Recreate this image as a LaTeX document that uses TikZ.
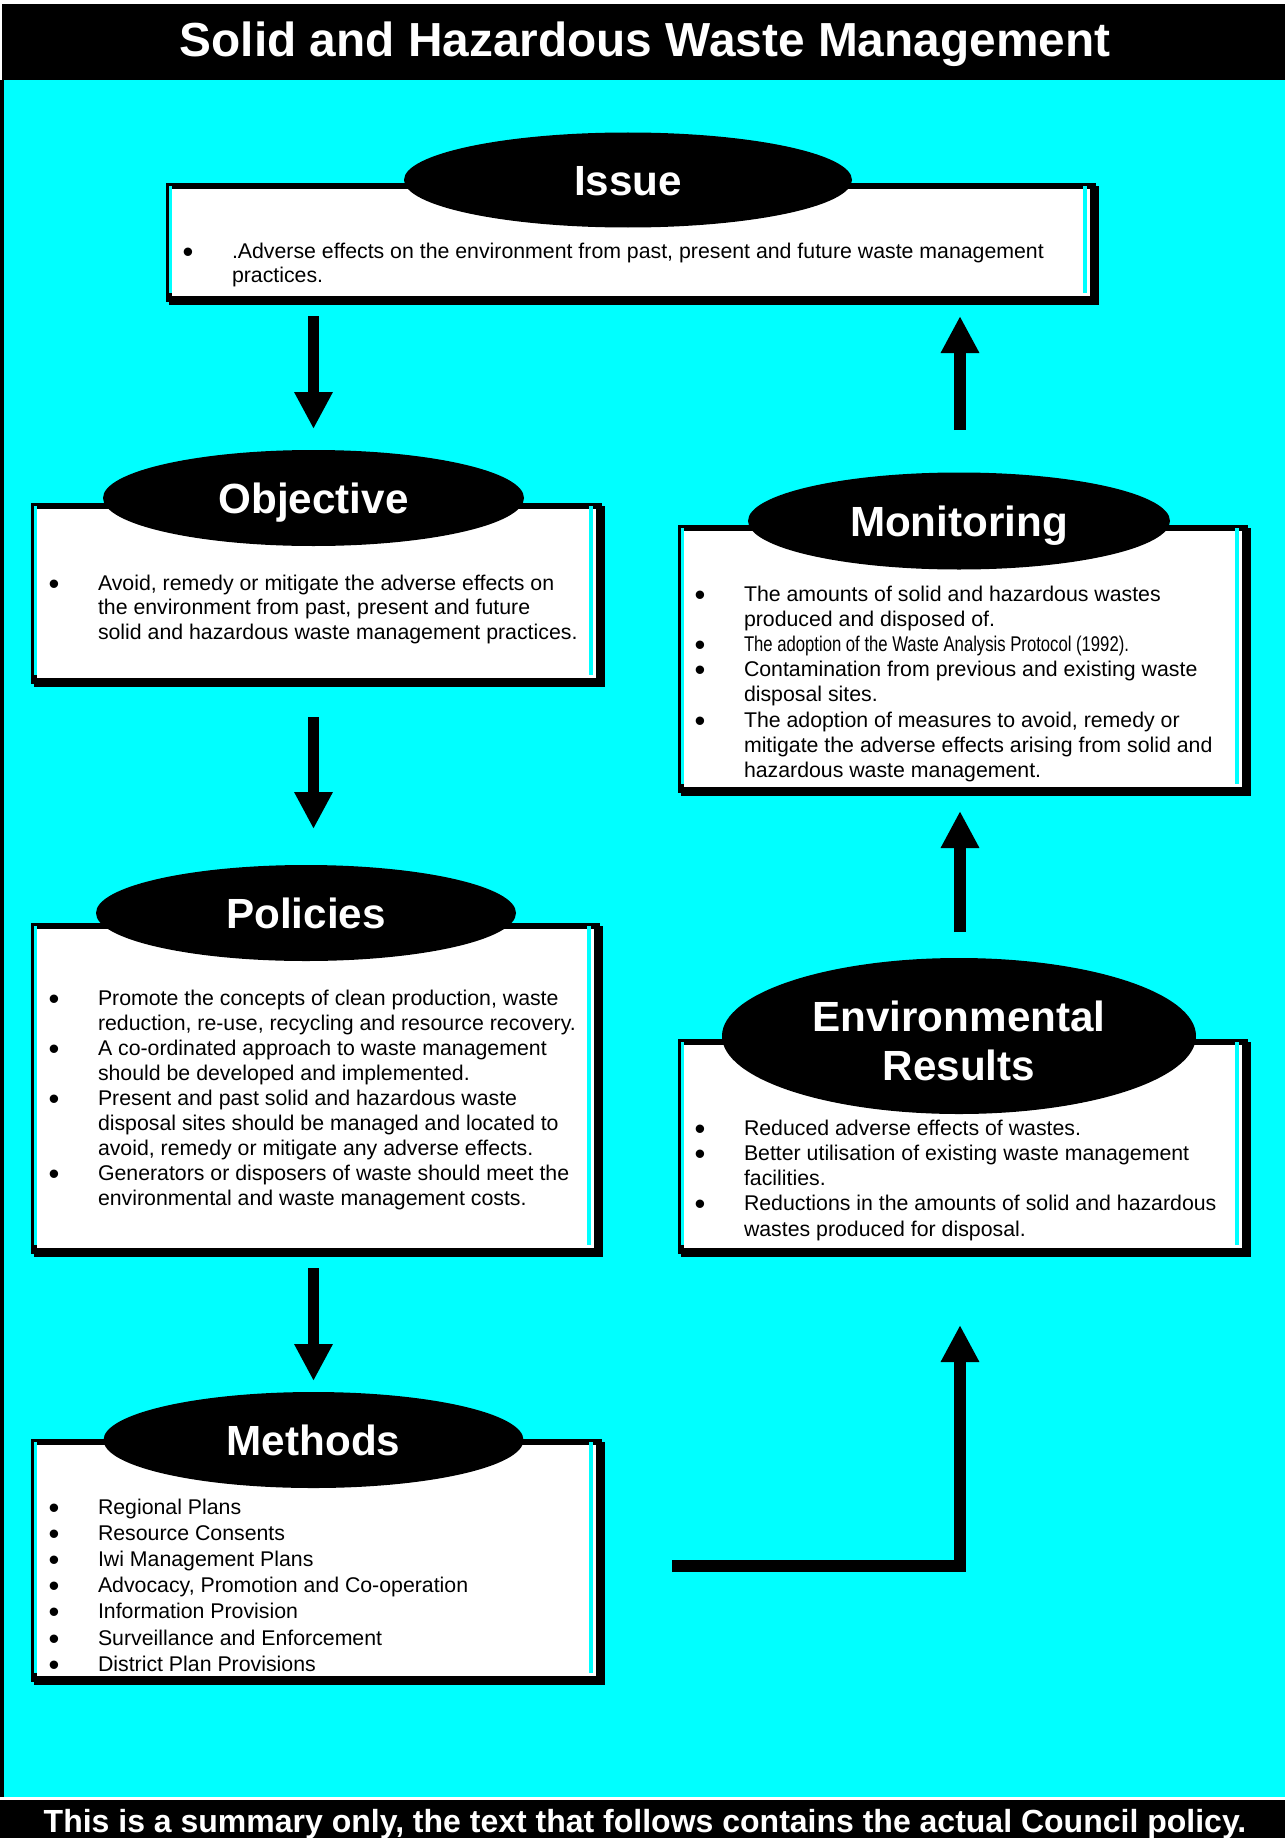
\documentclass[tikz,border=0pt]{standalone}
\usepackage{fontspec}
\setmainfont{Liberation Sans}
\usetikzlibrary{shapes.geometric,arrows.meta}
\definecolor{cy}{RGB}{0,255,255}
\newlength\bidist
\setlength\bidist{49.3pt}
\newcommand\bi[1]{\par\hangindent=\bidist\hangafter=1\noindent\makebox[\bidist][l]{\smash{\raisebox{-4pt}{\scalebox{1.45}{\textbullet}}}}#1\par}
\newcommand\txtblock[2]{\parbox[t]{1000pt}{\fontsize{21.3}{#1}\selectfont\setlength\parskip{0pt}#2}}
\tikzset{
  boxsty/.style={rectangle, draw=black, fill=white, line width=6pt, inner sep=0pt},
  titlesty/.style={ellipse, fill=black, text=white, inner sep=0pt, align=center,
     font=\fontsize{42.2}{49}\selectfont\bfseries, text height=30.2pt, text depth=0pt},
  txtsty/.style={anchor=base west, inner sep=0pt},
  arrsty/.style={line width=11.5pt, -{Triangle[width=36pt,length=37pt]}},
}
\newcommand\wastebox[5]{%
  \pgfmathsetmacro\wbw{#4-#2-6}\pgfmathsetmacro\wbh{#5-#3-6}%
  \fill[black] (#2+6,#3+6) rectangle (#4+6,#5+6);
  \node[boxsty, anchor=north west, minimum width=\wbw pt, minimum height=\wbh pt] (#1) at (#2+3,#3+3) {};
  \fill[cy] (#2+6,#3+6) rectangle (#2+9,#5-6);
  \fill[cy] (#4-10,#3+6) rectangle (#4-6,#5-6);
}
\begin{document}
\begin{tikzpicture}[x=1pt,y=-1pt]
\useasboundingbox (0,0) rectangle (1285,1838);
\fill[white] (0,0) rectangle (1285,1838);
% background
\fill[cy] (0,80) rectangle (1285,1797);
\fill[black] (0,80) rectangle (4,1797);
% header / footer
\fill[black] (2,4) rectangle (1285,80);
\node[anchor=base, text=white, font=\fontsize{47.8}{55}\selectfont\bfseries, inner sep=0pt] (head) at (645,57) {Solid and Hazardous Waste Management};
\fill[black] (0,1800) rectangle (1285,1838);
\node[anchor=base, text=white, font=\fontsize{32}{37}\selectfont\bfseries, inner sep=0pt] (foot) at (645,1832) {This is a summary only, the text that follows contains the actual Council policy.};

% boxes
\wastebox{issue}{163}{180}{1093}{299}
\wastebox{obj}{28}{500}{599}{681}
\wastebox{pol}{28}{920}{597}{1251}
\wastebox{meth}{28}{1436}{599}{1679}
\wastebox{mon}{675}{522}{1245}{790}
\wastebox{env}{675}{1036}{1245}{1251}

% titles
\node[titlesty, minimum width=448pt, minimum height=95pt] (issueT) at (628,180) {Issue};
\node[titlesty, minimum width=421pt, minimum height=96pt] (objT) at (313.5,498) {Objective};
\node[titlesty, minimum width=420pt, minimum height=96pt] (polT) at (306,913) {Policies};
\node[titlesty, minimum width=420pt, minimum height=96pt] (methT) at (313.5,1440) {Methods};
\node[titlesty, minimum width=422pt, minimum height=97pt] (monT) at (959,521) {Monitoring};
\node[titlesty, minimum width=474pt, minimum height=156pt, text height=88pt] (envT) at (959,1036) {Environmental\\Results};

% texts
\node[txtsty] (issueX) at (182.5,258) {\txtblock{24.8}{%
\bi{.Adverse effects on the environment from past, present and future waste management\\practices.}}};
\node[txtsty] (objX) at (48.5,590) {\txtblock{24.8}{%
\bi{Avoid, remedy or mitigate the adverse effects on\\the environment from past, present and future\\solid and hazardous waste management practices.}}};
\node[txtsty] (polX) at (48.5,1005) {\txtblock{25.1}{%
\bi{Promote the concepts of clean production, waste\\reduction, re-use, recycling and resource recovery.}
\bi{A co-ordinated approach to waste management\\should be developed and implemented.}
\bi{Present and past solid and hazardous waste\\disposal sites should be managed and located to\\avoid, remedy or mitigate any adverse effects.}
\bi{Generators or disposers of waste should meet the\\environmental and waste management costs.}}};
\node[txtsty] (methX) at (48.5,1514) {\txtblock{26.2}{%
\bi{Regional Plans}
\bi{Resource Consents}
\bi{Iwi Management Plans}
\bi{Advocacy, Promotion and Co-operation}
\bi{Information Provision}
\bi{Surveillance and Enforcement}
\bi{District Plan Provisions}}};
\node[txtsty] (monX) at (694.5,601) {\txtblock{25.2}{%
\bi{The amounts of solid and hazardous wastes\\produced and disposed of.}
\bi{\resizebox{385pt}{\height}{The adoption of the Waste Analysis Protocol (1992).}}
\bi{Contamination from previous and existing waste\\disposal sites.}
\bi{The adoption of measures to avoid, remedy or\\mitigate the adverse effects arising from solid and\\hazardous waste management.}}};
\node[txtsty] (envX) at (694.5,1135) {\txtblock{25.3}{%
\bi{Reduced adverse effects of wastes.}
\bi{Better utilisation of existing waste management\\facilities.}
\bi{Reductions in the amounts of solid and hazardous\\wastes produced for disposal.}}};

% connectors
\coordinate (a1s) at (313.5,316); \coordinate (a1e) at (313.5,429);
\coordinate (a2s) at (313.5,717); \coordinate (a2e) at (313.5,829);
\coordinate (a3s) at (313.5,1268); \coordinate (a3e) at (313.5,1381);
\coordinate (u1s) at (960,430); \coordinate (u1e) at (960,316);
\coordinate (u2s) at (960,932); \coordinate (u2e) at (960,811);
\coordinate (ls) at (672,1566); \coordinate (le) at (960,1325);
\draw[arrsty] (a1s) -- (a1e);
\draw[arrsty] (a2s) -- (a2e);
\draw[arrsty] (a3s) -- (a3e);
\draw[arrsty] (u1s) -- (u1e);
\draw[arrsty] (u2s) -- (u2e);
\draw[arrsty, line join=miter] (ls) -| (le);
\end{tikzpicture}
\end{document}
